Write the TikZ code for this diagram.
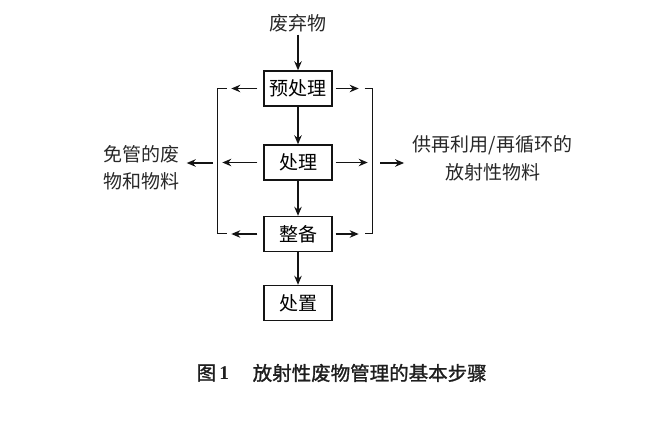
\documentclass[tikz,border=0pt]{standalone}
\usepackage{fontspec}
\newfontfamily\cjk{Noto Sans CJK SC}
\newfontfamily\cjkb{Noto Sans CJK SC}[FakeBold=1.3]
\newfontfamily\tnr{Liberation Serif}
\usetikzlibrary{arrows.meta}
\begin{document}
\begin{tikzpicture}[x=1pt,y=-1pt, line width=1.4pt, draw={rgb,255:red,20;green,20;blue,20},
  box/.style={draw, minimum width=68pt, minimum height=35pt, inner sep=0pt, font=\cjk\fontsize{19}{22}\selectfont},
  lbl/.style={font=\cjk\fontsize{19}{27.5}\selectfont, align=center, inner sep=0pt, text={rgb,255:red,40;green,40;blue,40}},
  arr/.style={-{Stealth[length=9pt,width=7.5pt]}},
  ]
\useasboundingbox (0,0) rectangle (668,444);
\node[lbl] (in) at (298,23) {废弃物};
\node[box] (pre) at (298,88.5) {预处理};
\node[box] (tr) at (298,162.5) {处理};
\node[box] (cond) at (298,234) {整备};
\node[box] (disp) at (298,303) {处置};
\node[lbl] (left) at (141,167.5) {免管的废\\物和物料};
\node[lbl] (right) at (492.5,158.5) {供再利用/再循环的\\放射性物料};

\coordinate (LT) at (217.5,88.5);
\coordinate (LB) at (217.5,233.5);
\coordinate (RT) at (372.5,88.5);
\coordinate (RB) at (372.5,233.5);
\coordinate (LM) at (217.5,163);
\coordinate (RM) at (372.5,163);

\coordinate (prel) at ([xshift=-32pt]pre.west);
\coordinate (prer) at ([xshift=26pt]pre.east);
\coordinate (trl) at ([xshift=-41pt]tr.west);
\coordinate (trr) at ([xshift=35pt]tr.east);
\coordinate (condl) at ([xshift=-32pt]cond.west);
\coordinate (condr) at ([xshift=26pt]cond.east);

\draw[arr, shorten <=2pt] (in) -- (pre);
\draw[arr] (pre) -- (tr);
\draw[arr] (tr) -- (cond);
\draw[arr] (cond) -- (disp);

\draw[arr, shorten <=6pt] (pre.west) -- (prel);
\draw[arr, shorten <=3pt] (pre.east) -- (prer);
\draw[arr, shorten <=6pt] (tr.west) -- (trl);
\draw[arr, shorten <=3pt] (tr.east) -- (trr);
\draw[arr, shorten <=6pt] (cond.west) -- (condl);
\draw[arr, shorten <=3pt] (cond.east) -- (condr);

\draw ([xshift=9pt]LT) -- (LT) -- (LB) -- ([xshift=9pt]LB);
\draw ([xshift=-8pt]RT) -- (RT) -- (RB) -- ([xshift=-8pt]RB);

\draw[arr, shorten <=4.5pt, shorten >=7pt] (LM) -- (left.east |- LM);
\draw[arr, shorten <=7.5pt, shorten >=8pt] (RM) -- (right.west |- RM);

\node[anchor=west, inner sep=0pt, text={rgb,255:red,30;green,30;blue,30}] (capn) at (196,373) {\cjkb\fontsize{19.5}{22}\selectfont 图\,{\tnr\bfseries 1}};
\node[anchor=west, inner sep=0pt, text={rgb,255:red,30;green,30;blue,30}] (capt) at (252,373) {\cjkb\fontsize{19.5}{22}\selectfont 放射性废物管理的基本步骤};
\end{tikzpicture}
\end{document}
